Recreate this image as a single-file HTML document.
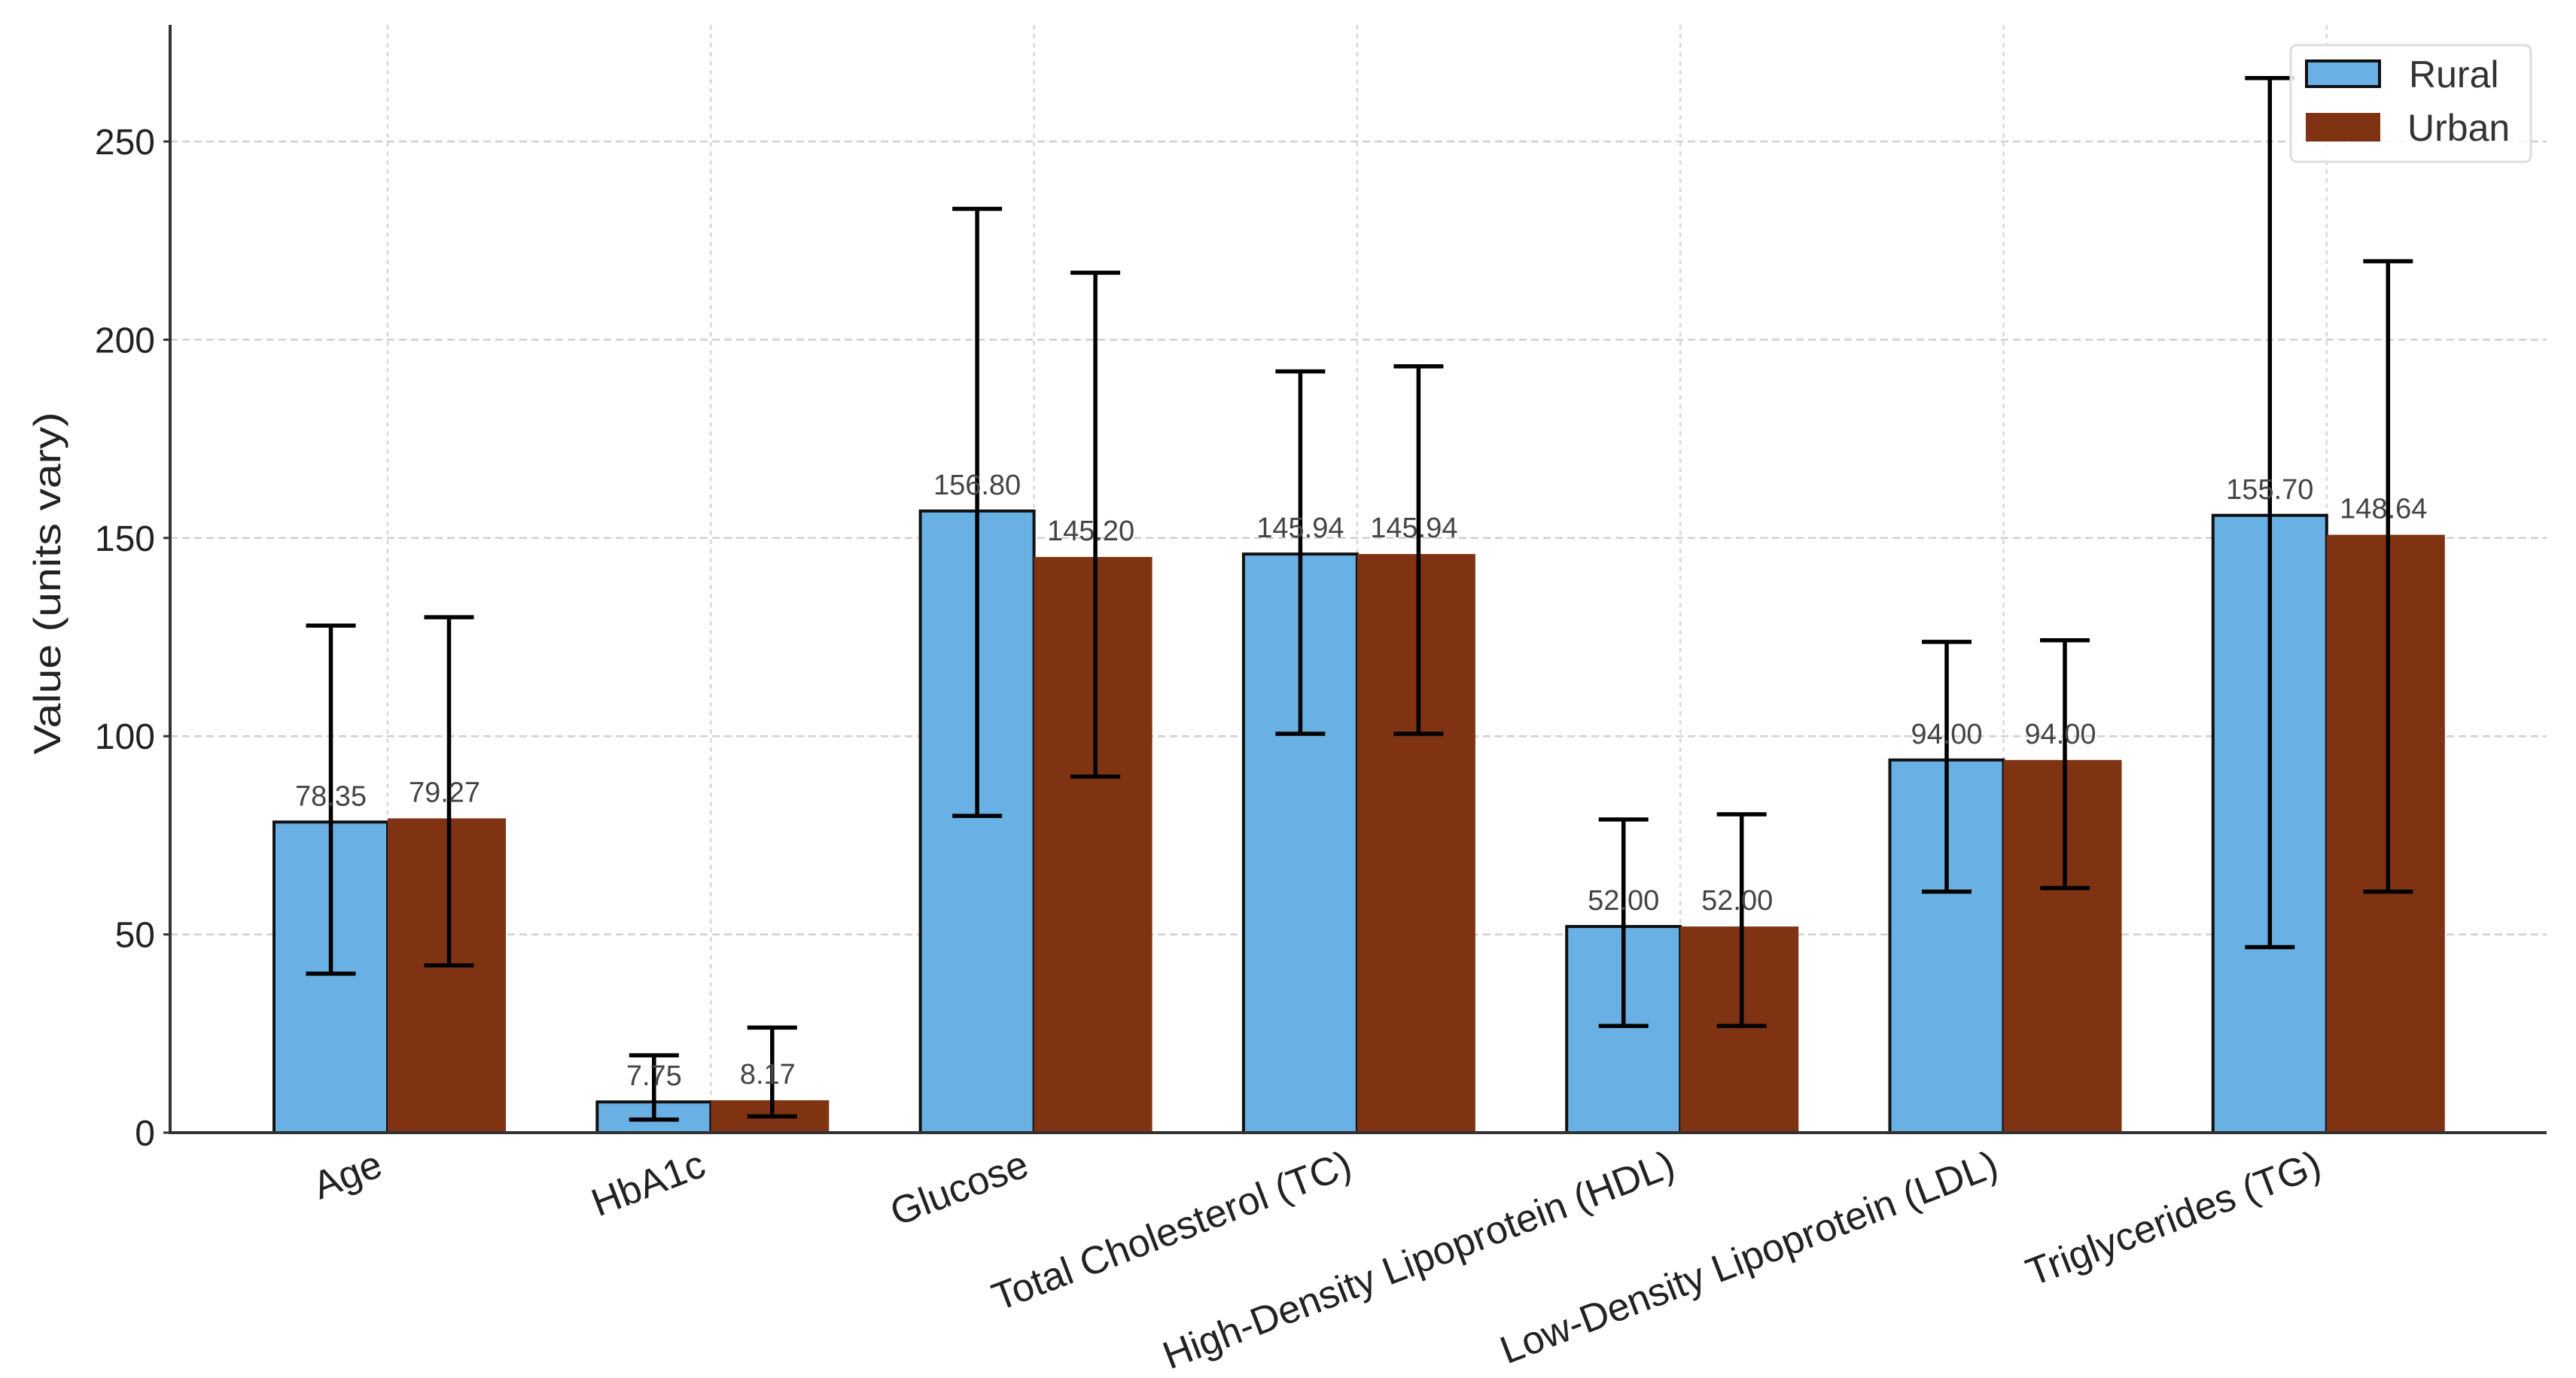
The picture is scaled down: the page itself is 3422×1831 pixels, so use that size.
<!DOCTYPE html>
<html><head><meta charset="utf-8"><style>
html,body{margin:0;padding:0;background:#fff;}
svg{display:block;font-family:"Liberation Sans","DejaVu Sans",sans-serif;}
</style></head><body>
<svg id="chart" width="3422" height="1831" viewBox="0 0 3422 1831" xmlns="http://www.w3.org/2000/svg">
<g id="grid"></g><g id="bars"></g><g id="errs"></g><g id="vals"></g><g id="axes"></g>
<text transform="translate(80,775) rotate(-90)" text-anchor="middle" font-size="50" fill="#222" textLength="455" lengthAdjust="spacingAndGlyphs">Value (units vary)</text>
<g>
<rect x="3043" y="60" width="319" height="155" rx="8" fill="#fff" fill-opacity="0.85" stroke="#ddd" stroke-width="3"/>
<rect x="3064" y="81" width="97" height="34" fill="#69b0e4" stroke="#111" stroke-width="4"/>
<text x="3200" y="116" font-size="50" fill="#333">Rural</text>
<rect x="3063" y="150" width="99" height="38" fill="#7f3312"/>
<text x="3198" y="187" font-size="50" fill="#333">Urban</text>
</g>
</svg>
<script>
const categories=["Age","HbA1c","Glucose","Total Cholesterol (TC)","High-Density Lipoprotein (HDL)","Low-Density Lipoprotein (LDL)","Triglycerides (TG)"];
const ruralValues=[78.35,7.75,156.8,145.94,52.0,94.0,155.7];
const urbanValues=[79.27,8.17,145.2,145.94,52.0,94.0,150.8];
const ruralLabels=["78.35","7.75","156.80","145.94","52.00","94.00","155.70"];
const urbanLabels=["79.27","8.17","145.20","145.94","52.00","94.00","148.64"];
const ruralLow=[40.1,3.3,79.9,100.6,26.9,60.8,46.8];
const ruralHigh=[127.9,19.5,233,192,79,123.8,266];
const urbanLow=[42.2,4.1,89.8,100.6,26.9,61.7,60.8];
const urbanHigh=[130,26.5,216.9,193.3,80.3,124.2,219.8];
const yTicks=[0,50,100,150,200,250];

const NS="http://www.w3.org/2000/svg";
const X0=226,X1=3383,Y0=1505,YT=33;
const y=v=>Y0-v*(Y0-188)/250;
const xc=i=>515+429.3*i;
const BW=151;
function mk(tag,attrs,parent){const e=document.createElementNS(NS,tag);for(const k in attrs)e.setAttribute(k,attrs[k]);document.getElementById(parent).appendChild(e);return e;}

yTicks.forEach(t=>{
  if(t>0){const g=mk('line',{x1:X0,x2:X1,y1:y(t),y2:y(t),stroke:'#d0d0d0','stroke-width':2.5,'stroke-dasharray':'10,6'},'grid');
  
  }
  const tk=mk('line',{x1:X0-9,x2:X0,y1:y(t),y2:y(t),stroke:'#333','stroke-width':3},'axes');
  
  
  const tl=mk('text',{x:X0-20,y:y(t)+17,'text-anchor':'end','font-size':48,fill:'#222'},'axes');
  tl.textContent=t;
  
  
});
categories.forEach((c,i)=>{
  const cx=xc(i);
  const g=mk('line',{x1:cx,x2:cx,y1:YT,y2:Y0,stroke:'#d8d8d8','stroke-width':2.5,'stroke-dasharray':'6,6'},'grid');
  
  
  const r=mk('rect',{x:cx-BW,y:y(ruralValues[i]),width:BW,height:Y0-y(ruralValues[i]),fill:'#69b0e4',stroke:'#111','stroke-width':4},'bars');
  
  
  const u=mk('rect',{x:cx,y:y(urbanValues[i]),width:BW+6,height:Y0-y(urbanValues[i]),fill:'#7f3312'},'bars');
  
  
  [[cx-BW/2,ruralLow[i],ruralHigh[i],'rural'],[cx+BW/2+6,urbanLow[i],urbanHigh[i],'urban']].forEach(([ex,lo,hi,s])=>{
    const eg=document.createElementNS(NS,'g');document.getElementById('errs').appendChild(eg);
    
    
    [[ex,y(lo),ex,y(hi)],[ex-33,y(lo),ex+33,y(lo)],[ex-33,y(hi),ex+33,y(hi)]].forEach(p=>{
      const l=document.createElementNS(NS,'line');
      l.setAttribute('x1',p[0]);l.setAttribute('y1',p[1]);l.setAttribute('x2',p[2]);l.setAttribute('y2',p[3]);
      l.setAttribute('stroke','#000');l.setAttribute('stroke-width',5.5);eg.appendChild(l);
    });
  });
  const rv=mk('text',{x:cx-BW/2,y:y(ruralValues[i])-22,'text-anchor':'middle','font-size':38,fill:'#444'},'vals');
  rv.textContent=ruralLabels[i];
  
  
  const uv=mk('text',{x:cx+BW/2,y:y(urbanValues[i])-22,'text-anchor':'middle','font-size':38,fill:'#444'},'vals');
  uv.textContent=urbanLabels[i];
  
  
  const xl=mk('text',{transform:`translate(${cx-4},${Y0+56}) rotate(-21)`,'text-anchor':'end','font-size':52,fill:'#222'},'axes');
  xl.textContent=c;
  
  
});
const ya=mk('line',{x1:X0,x2:X0,y1:YT,y2:Y0+2,stroke:'#333','stroke-width':4},'axes');


const xa=mk('line',{x1:X0-2,x2:X1,y1:Y0,y2:Y0,stroke:'#333','stroke-width':4},'axes');


</script>
</body></html>
